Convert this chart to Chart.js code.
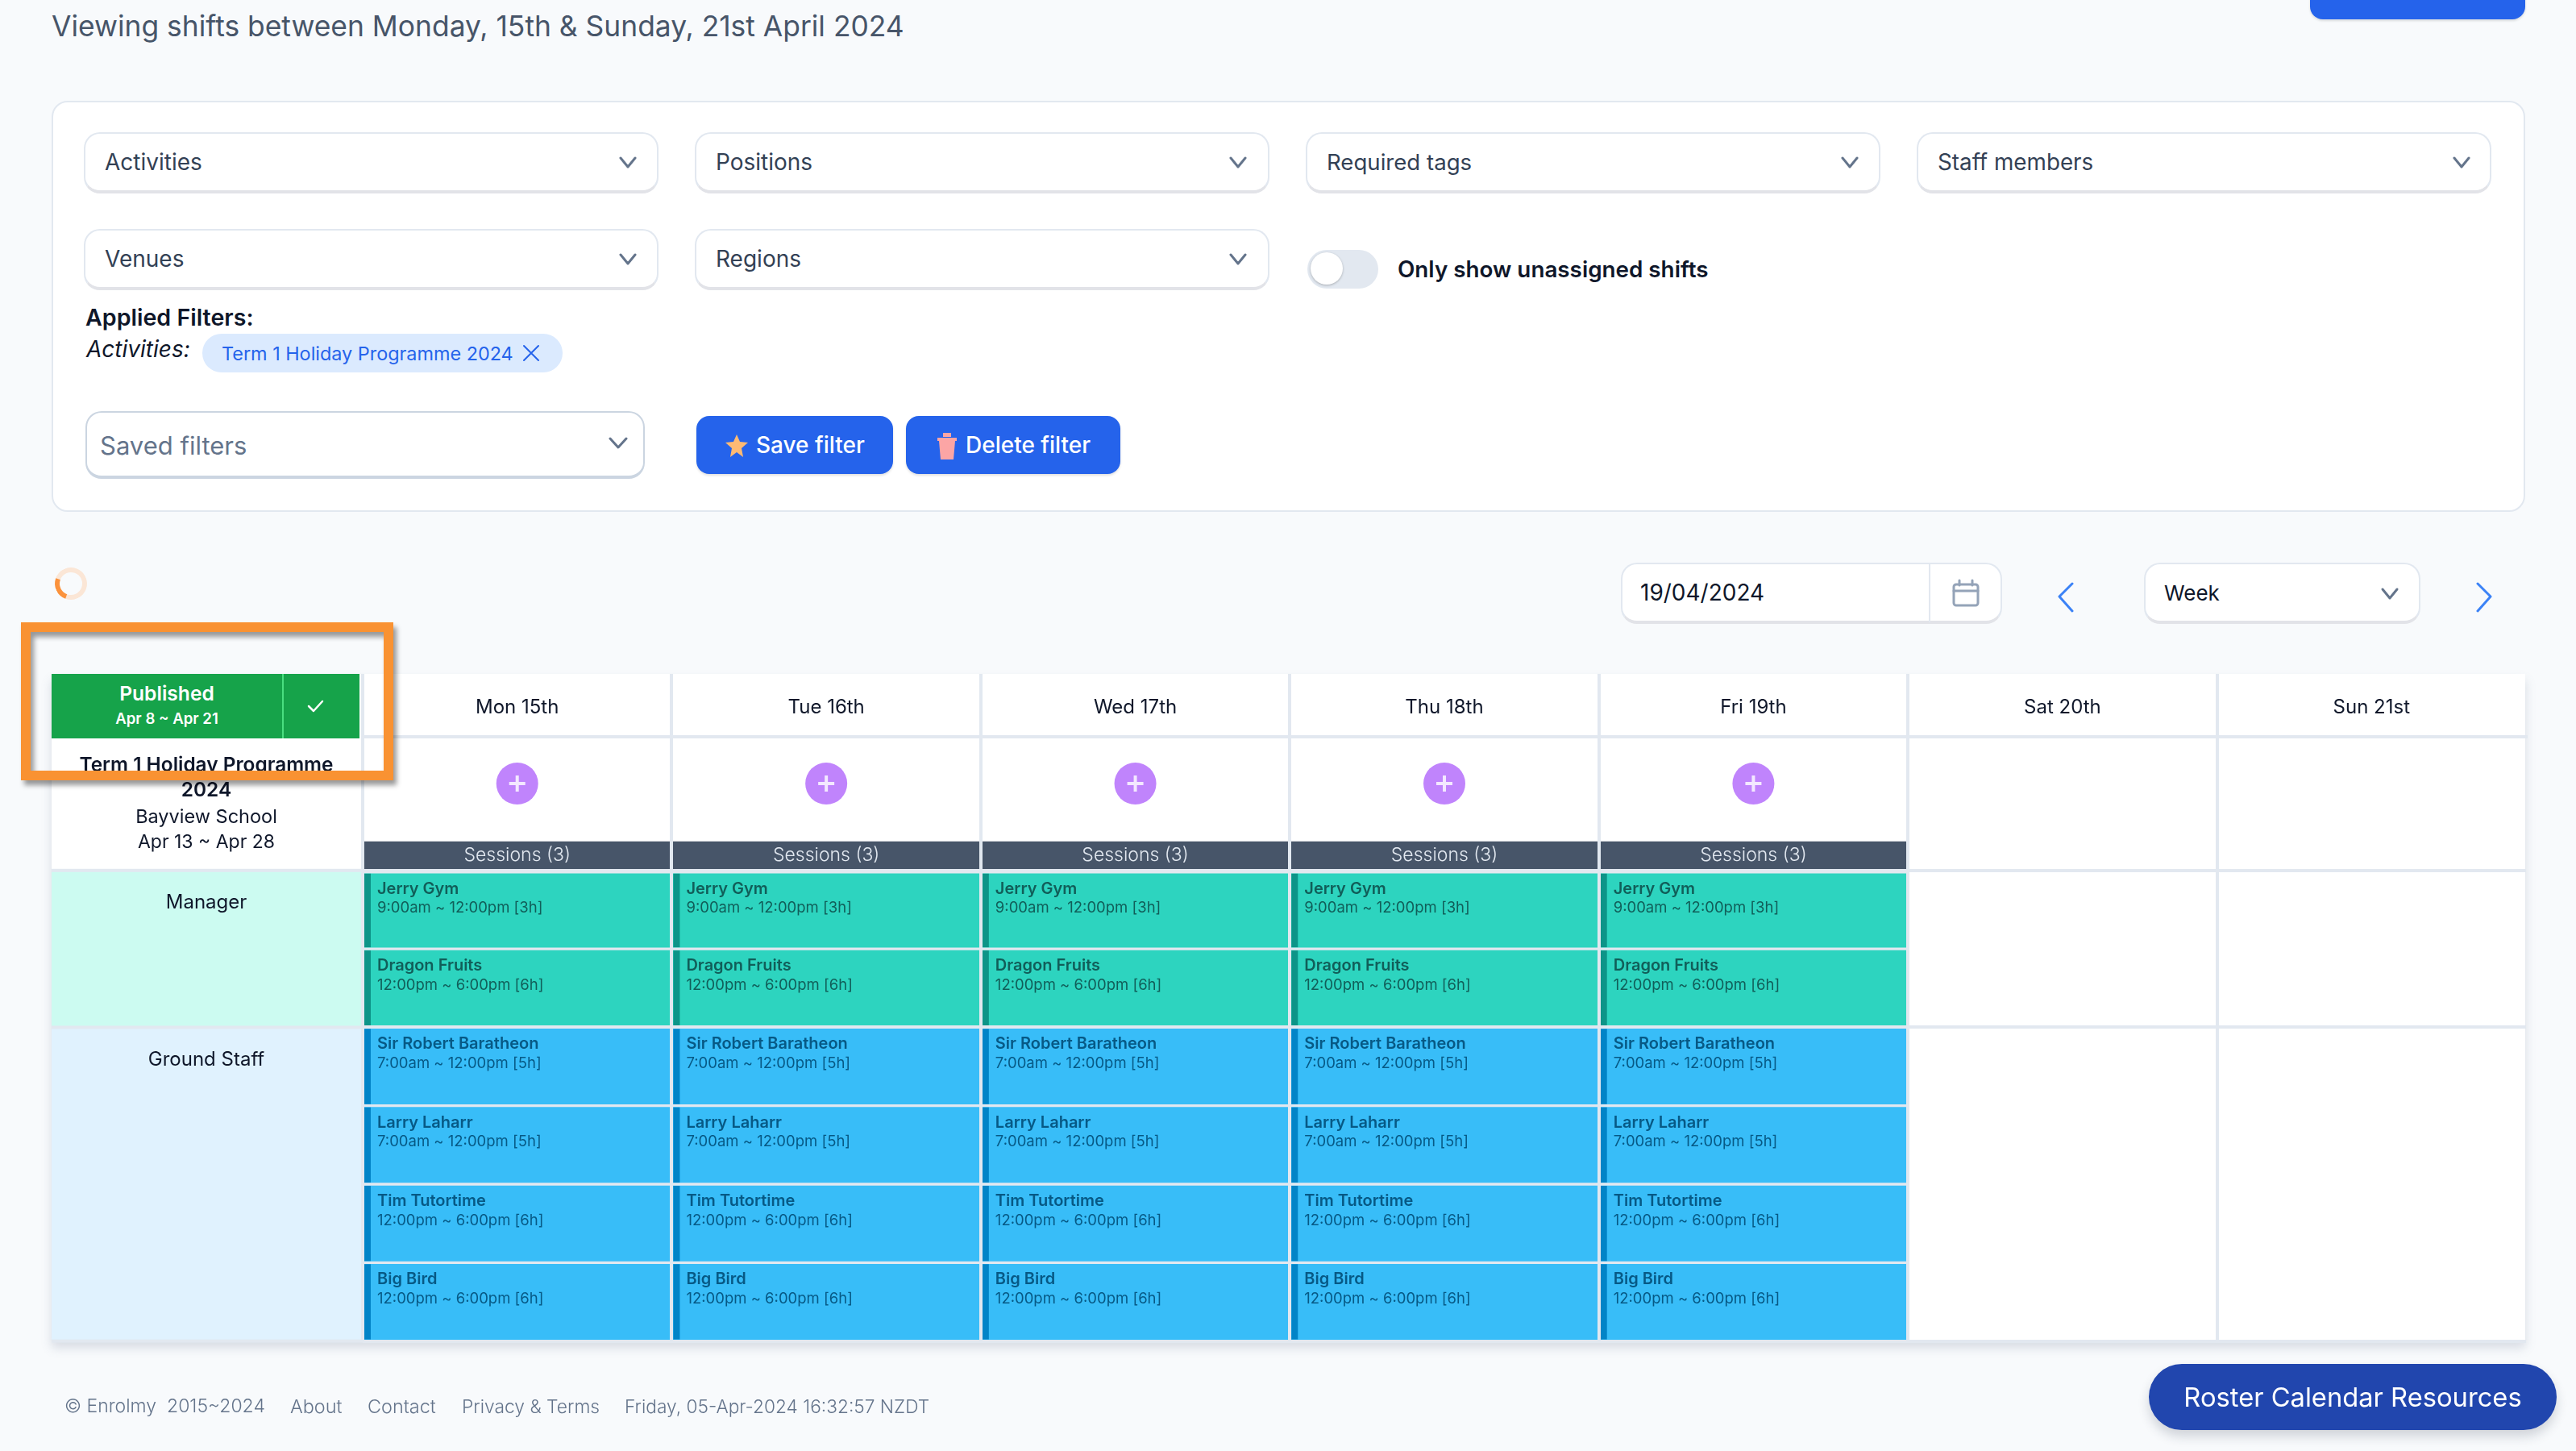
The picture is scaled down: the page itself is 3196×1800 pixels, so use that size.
<!DOCTYPE html>
<html>
<head>
<meta charset="utf-8">
<title>Roster calendar</title>
<script src="https://cdn.jsdelivr.net/npm/chart.js@4"></script>
<style>
html, body { margin: 0; padding: 0; width: 3196px; height: 1800px; overflow: hidden; background: #f8fafc; font-family: Inter, sans-serif; color: #0f172a; }
.box, .t, svg, canvas { position: absolute; }
.t { white-space: nowrap; transform: translateY(-50%); }
.c { transform: translate(-50%, -50%); text-align: center; }
.select { background: #fff; border: 2px solid #e2e8f0; border-bottom: 4px solid #e2e3e8; border-radius: 20px; box-sizing: border-box; }
.btn { background: #2563eb; border-radius: 16px; box-shadow: 0 2px 3px rgba(0,0,0,.12); }
</style>
</head>
<body>

<div class="t" style="left:64px;top:32px;font-size:35.4px;color:#475569">Viewing shifts between Monday, 15th &amp; Sunday, 21st April 2024</div>
<div class="box btn" style="left:2866px;top:-20px;width:267px;height:44px"></div>

<div class="box" style="left:64px;top:125px;width:3069px;height:510px;background:#fff;border:2px solid #e2e8f0;border-radius:20px;box-sizing:border-box"></div>

<div class="box select" style="left:104px;top:164px;width:713px;height:76px"></div>
<div class="t" style="left:130px;top:201px;font-size:28px;color:#334155">Activities</div>
<div class="box select" style="left:862px;top:164px;width:713px;height:76px"></div>
<div class="t" style="left:888px;top:201px;font-size:28px;color:#334155">Positions</div>
<div class="box select" style="left:1620px;top:164px;width:713px;height:76px"></div>
<div class="t" style="left:1646px;top:201px;font-size:27.6px;color:#334155">Required tags</div>
<div class="box select" style="left:2378px;top:164px;width:713px;height:76px"></div>
<div class="t" style="left:2404px;top:201px;font-size:27.8px;color:#334155">Staff members</div>
<div class="box select" style="left:104px;top:284px;width:713px;height:76px"></div>
<div class="t" style="left:130px;top:321px;font-size:28px;color:#334155">Venues</div>
<div class="box select" style="left:862px;top:284px;width:713px;height:76px"></div>
<div class="t" style="left:888px;top:321px;font-size:28px;color:#334155">Regions</div>

<svg width="3196" height="1800" style="left:0;top:0;z-index:1" fill="none" stroke="#64748b" stroke-width="3" stroke-linecap="round" stroke-linejoin="round">
  <path d="M770 196l9 11 9-11M1527 196l9 11 9-11M2286 196l9 11 9-11M3045 196l9 11 9-11"/>
  <path d="M770 316l9 11 9-11M1527 316l9 11 9-11"/>
  <path d="M757 544l10 11 10-11"/>
  <path d="M2956 731l9 11 9-11"/>
  <path d="M2571 724l-16 16 16 18M3074 724l16 16-16 18" stroke="#3b82f6"/>
  <path d="M650 429l18 18M668 429l-18 18" stroke="#2563eb" stroke-width="2"/>
  <path d="M383 876l6 6 11-12" stroke="#fff" stroke-width="2.5"/>
  <rect x="2424" y="725" width="30" height="26" rx="3" stroke="#94a3b8"/>
  <path d="M2424 733h30M2431 720v6M2447 720v6" stroke="#94a3b8"/>
</svg>

<div class="box" style="left:1622px;top:310px;width:88px;height:48px;border-radius:24px;background:#e2e8f0"></div>
<div class="box" style="left:1626px;top:313px;width:40px;height:40px;border-radius:50%;background:#fff;box-shadow:0 1px 3px rgba(0,0,0,.25)"></div>
<div class="t" style="left:1734px;top:334px;font-size:27.8px;font-weight:600;color:#0f172a">Only show unassigned shifts</div>

<div class="t" style="left:106px;top:393px;font-size:28.6px;font-weight:600">Applied Filters:</div>
<div class="t" style="left:107px;top:433px;font-size:28px;font-style:italic">Activities:</div>
<div class="box" style="left:251px;top:414px;width:447px;height:48px;border-radius:24px;background:#dbeafe"></div>
<div class="t" style="left:275px;top:438px;font-size:23.4px;color:#2563eb">Term 1 Holiday Programme 2024</div>

<div class="box select" style="left:106px;top:510px;width:694px;height:84px;border-color:#cbd5e1"></div>
<div class="t" style="left:124px;top:552px;font-size:31px;color:#64748b">Saved filters</div>
<div class="box btn" style="left:864px;top:516px;width:244px;height:72px"></div>
<div class="t" style="left:938px;top:552px;font-size:28px;font-weight:500;color:#fff">Save filter</div>
<div class="box btn" style="left:1124px;top:516px;width:266px;height:72px"></div>
<div class="t" style="left:1198px;top:552px;font-size:28px;font-weight:500;color:#fff">Delete filter</div>
<svg width="3196" height="1800" style="left:0;top:0;z-index:1">
  <path d="M914 539l4 9 10 1-8 7 2 11-8-6-8 6 2-11-8-7 10-1z" fill="#fdba74"/>
  <path d="M1163 543h24v4h-2l-2 23h-16l-2-23h-2zM1170 537h10v5h-10z" fill="#fca5a5"/>
</svg>

<div class="box" style="left:68px;top:704px;width:40px;height:40px;border-radius:50%;border:6px solid #fbe6d6;border-left-color:#fb923c;box-sizing:border-box;transform:rotate(-25deg)"></div>

<div class="box select" style="left:2011px;top:698px;width:473px;height:76px"></div>
<div class="box" style="left:2393px;top:700px;width:2px;height:72px;background:#e2e8f0"></div>
<div class="t" style="left:2035px;top:735px;font-size:28px">19/04/2024</div>
<div class="box select" style="left:2660px;top:698px;width:343px;height:76px"></div>
<div class="t" style="left:2685px;top:735px;font-size:26px">Week</div>

<div class="box" style="left:64px;top:836px;width:3069px;height:828px;background:#fff;box-shadow:0 8px 12px rgba(100,116,139,.22)"></div>
<canvas id="rosterChart" width="3196" height="1800" style="left:0;top:0"></canvas>

<div class="box" style="left:64px;top:836px;width:382px;height:80px;background:#16a34a"></div>
<div class="box" style="left:350px;top:836px;width:2px;height:80px;background:#4ade80"></div>
<div class="t c" style="left:207px;top:860px;font-size:24.6px;font-weight:600;color:#fff">Published</div>
<div class="t c" style="left:207px;top:891px;font-size:18.6px;font-weight:600;color:#fff">Apr 8 ~ Apr 21</div>
<div class="t c" style="left:256px;top:948px;font-size:24.4px;font-weight:600">Term 1 Holiday Programme</div>
<div class="t c" style="left:256px;top:979px;font-size:24.4px;font-weight:600">2024</div>
<div class="t c" style="left:256px;top:1012px;font-size:23.5px">Bayview School</div>
<div class="t c" style="left:256px;top:1044px;font-size:23px">Apr 13 ~ Apr 28</div>

<div class="box" style="left:26px;top:772px;width:462px;height:196px;border:12px solid #f99232;box-sizing:border-box;box-shadow:4px 6px 6px rgba(0,0,0,.4), inset 4px 6px 6px rgba(0,0,0,.4);z-index:2"></div>

<div class="t" style="left:80px;top:1744px;font-size:23px;font-weight:300;color:#64748b">© Enrolmy&nbsp; 2015~2024</div>
<div class="t" style="left:360px;top:1744px;font-size:23.4px;font-weight:300;color:#64748b">About</div>
<div class="t" style="left:456px;top:1744px;font-size:23.4px;font-weight:300;color:#64748b">Contact</div>
<div class="t" style="left:573px;top:1744px;font-size:22.8px;font-weight:300;color:#64748b">Privacy &amp; Terms</div>
<div class="t" style="left:775px;top:1744px;font-size:22.7px;font-weight:300;color:#64748b">Friday, 05-Apr-2024 16:32:57 NZDT</div>

<div class="box" style="left:2666px;top:1692px;width:506px;height:82px;border-radius:41px;background:#2146ae;box-shadow:0 8px 14px rgba(30,41,59,.18)"></div>
<div class="t c" style="left:2919px;top:1733px;font-size:32.7px;color:#fff">Roster Calendar Resources</div>

<script>
const days = ['Mon 15th', 'Tue 16th', 'Wed 17th', 'Thu 18th', 'Fri 19th', 'Sat 20th', 'Sun 21st'];
const sessionCounts = [3, 3, 3, 3, 3, null, null];
const addButtonRows = [-1.108, -1.108, -1.108, -1.108, -1.108, null, null];
const sessionRange = [-0.368, 0];

const positionNames = ['Manager', 'Ground Staff'];
const rowBounds = [0, 2, 6];

const shiftNames = ['Jerry Gym', 'Dragon Fruits', 'Sir Robert Baratheon', 'Larry Laharr', 'Tim Tutortime', 'Big Bird'];
const shiftTimes = ['9:00am ~ 12:00pm [3h]', '12:00pm ~ 6:00pm [6h]', '7:00am ~ 12:00pm [5h]', '7:00am ~ 12:00pm [5h]', '12:00pm ~ 6:00pm [6h]', '12:00pm ~ 6:00pm [6h]'];
const shiftSlots = [[0, 1], [1, 2], [2, 3], [3, 4], [4, 5], [5, 6]];
const shiftRows = [0, 0, 1, 1, 1, 1];

const rowFill = ['#ccfbf1', '#e0f2fe'];
const cardFill = ['#2dd4bf', '#38bdf8'];
const cardStripe = ['#0d9488', '#0284c7'];
const cardText = ['#115e59', '#075985'];
const lineColor = '#e2e8f0';

const shiftDatasets = shiftNames.map((name, i) => ({
    type: 'bar',
    label: name,
    time: shiftTimes[i],
    row: shiftRows[i],
    grouped: false,
    data: sessionCounts.map(n => n === null ? null : shiftSlots[i]),
    backgroundColor: cardFill[shiftRows[i]],
    borderColor: lineColor,
    borderWidth: { top: 2, bottom: 2, left: 0, right: 0 },
    borderSkipped: false,
    barPercentage: 1,
    categoryPercentage: 1
}));

// stripe and text on the cards, sessions labels, left column
const rosterText = {
    id: 'rosterText',
    beforeDatasetsDraw(chart) {
        const { ctx, chartArea, scales: { y } } = chart;
        positionNames.forEach((name, i) => {
            const top = y.getPixelForValue(rowBounds[i]);
            const bottom = y.getPixelForValue(rowBounds[i + 1]);
            ctx.fillStyle = rowFill[i];
            ctx.fillRect(64, top, chartArea.left - 64, bottom - top);
            ctx.fillStyle = '#0f172a';
            ctx.font = '400 24px Inter';
            ctx.textAlign = 'center';
            ctx.textBaseline = 'middle';
            ctx.fillText(name, 256, top + 40);
        });
        ctx.fillStyle = lineColor;
        rowBounds.forEach(b => ctx.fillRect(64, y.getPixelForValue(b) - 2, chartArea.left - 64, 4));
    },
    afterDatasetsDraw(chart) {
        const { ctx } = chart;
        ctx.save();
        ctx.textBaseline = 'middle';
        chart.data.datasets.forEach((ds, d) => {
            const meta = chart.getDatasetMeta(d);
            meta.data.forEach((bar, i) => {
                if (ds.data[i] === null) return;
                const p = bar.getProps(['x', 'y', 'base', 'width'], true);
                if (ds.sessions) {
                    ctx.fillStyle = '#e2e8f0';
                    ctx.font = '300 23px Inter';
                    ctx.textAlign = 'center';
                    ctx.fillText('Sessions (' + ds.sessions[i] + ')', p.x, (p.y + p.base) / 2);
                } else if (ds.time) {
                    const left = p.x - p.width / 2;
                    const top = Math.min(p.y, p.base);
                    const h = Math.abs(p.base - p.y);
                    ctx.fillStyle = cardStripe[ds.row];
                    ctx.fillRect(left + 2, top + 2, 8, h - 4);
                    ctx.textAlign = 'left';
                    ctx.fillStyle = cardText[ds.row];
                    ctx.font = '600 20px Inter';
                    ctx.fillText(ds.label, left + 18, top + 21);
                    ctx.font = '400 18.5px Inter';
                    ctx.fillText(ds.time, left + 18, top + 45);
                }
            });
        });
        ctx.restore();
    }
};

new Chart(document.getElementById('rosterChart'), {
    data: {
        labels: days,
        datasets: [
            {
                type: 'line',
                label: 'add icon',
                data: addButtonRows,
                showLine: false,
                pointStyle: 'cross',
                pointRadius: 10,
                pointBorderColor: '#f3e8ff',
                pointBorderWidth: 4
            },
            {
                type: 'line',
                label: 'add shift',
                data: addButtonRows,
                showLine: false,
                pointStyle: 'circle',
                pointRadius: 26,
                pointBackgroundColor: '#c084fc',
                pointBorderWidth: 0
            },
            {
                type: 'bar',
                label: 'Sessions',
                sessions: sessionCounts,
                grouped: false,
                data: sessionCounts.map(n => n === null ? null : sessionRange),
                backgroundColor: '#475569',
                borderSkipped: false,
                barPercentage: 1,
                categoryPercentage: 1
            },
            ...shiftDatasets
        ]
    },
    options: {
        responsive: false,
        animation: false,
        layout: { padding: { left: 450, right: 62, top: 836, bottom: 136.4 } },
        plugins: { legend: { display: false }, tooltip: { enabled: false } },
        scales: {
            x: {
                position: 'top',
                offset: true,
                afterFit: s => { s.height = 78; },
                grid: {
                    offset: true,
                    z: 1,
                    lineWidth: 4,
                    tickLength: 78,
                    color: c => c.index === undefined ? 'transparent' : lineColor
                },
                border: { display: true, color: lineColor, width: 4, z: 1 },
                ticks: { padding: -56, maxRotation: 0, color: '#0f172a', font: { family: 'Inter', size: 24 } }
            },
            y: {
                reverse: true,
                min: -1.704,
                max: 6,
                afterFit: s => { s.width = 0; },
                afterBuildTicks: s => { s.ticks = rowBounds.map(value => ({ value })); },
                grid: { z: 1, lineWidth: 4, color: lineColor, drawTicks: false },
                border: { display: false },
                ticks: { display: false }
            }
        }
    },
    plugins: [rosterText]
});
</script>
</body>
</html>
